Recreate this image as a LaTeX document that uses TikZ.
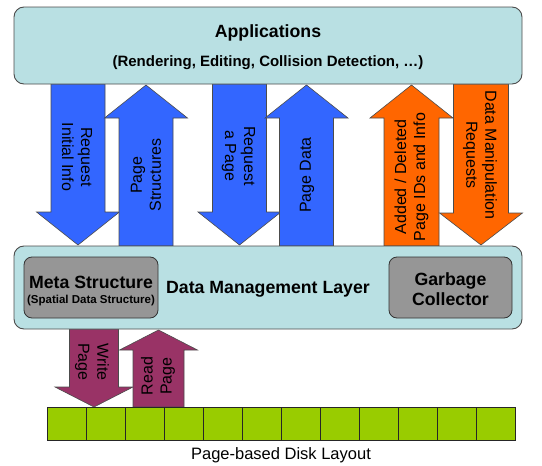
\documentclass[tikz,border=0pt]{standalone}
\usepackage{fontspec}
\setmainfont{Liberation Sans}

\definecolor{layerfill}{RGB}{185,224,227}
\definecolor{reqblue}{RGB}{51,102,255}
\definecolor{modorange}{RGB}{255,102,0}
\definecolor{iopurple}{RGB}{153,51,102}
\definecolor{boxgray}{RGB}{150,150,150}
\definecolor{diskgreen}{RGB}{153,204,0}

% block arrow: style, x, tail y, neck y, tip y, half shaft, half head
\newcommand{\blockarrow}[7]{%
  \draw[#1] (#2-#6,#3) -- (#2-#6,#4) -- (#2-#7,#4) -- (#2,#5)
    -- (#2+#7,#4) -- (#2+#6,#4) -- (#2+#6,#3) -- cycle;}

\begin{document}
\begin{tikzpicture}[x=1pt,y=-1pt,
	layer/.style={draw=black!70, line width=0.9pt, fill=layerfill, rounded corners=10pt, inner sep=0pt},
	part/.style={draw=black!80, line width=0.8pt, fill=boxgray, rounded corners=8pt, inner sep=0pt, minimum height=61pt},
	cell/.style={draw=black!85, line width=0.7pt, fill=diskgreen, minimum width=39pt, minimum height=33pt, inner sep=0pt},
	reqarrow/.style={draw=black!70, line width=0.6pt, fill=reqblue},
	modarrow/.style={draw=black!70, line width=0.6pt, fill=modorange},
	ioarrow/.style={draw=black!70, line width=0.6pt, fill=iopurple},
	arrowtext/.style={font=\fontsize{16}{19}\selectfont, align=center},
	bigtext/.style={font=\bfseries\fontsize{17.7}{21}\selectfont, align=center}]
	
	\useasboundingbox (0,0) rectangle (542,466);
	
	% Draw arrows, applications <-> data management layer
	\blockarrow{reqarrow}{78}{84}{212}{245}{27}{41.5}
	\blockarrow{reqarrow}{146}{246}{118}{85}{27}{41.5}
	\blockarrow{reqarrow}{239.5}{84}{212}{245}{27}{41.5}
	\blockarrow{reqarrow}{306.5}{246}{118}{85}{27}{41.5}
	\blockarrow{modarrow}{411.5}{246}{118}{85}{27.5}{41.5}
	\blockarrow{modarrow}{481}{84}{213}{245}{27.5}{41.5}
	
	% Draw arrows, data management layer <-> disk
	\blockarrow{ioarrow}{94}{329}{387}{407}{24.5}{39}
	\blockarrow{ioarrow}{158.5}{407}{350}{330}{25.5}{39}
	
	% Draw layers
	\node[layer, minimum width=508pt, minimum height=77pt] (apps) at (268,45.5) {};
	\node[bigtext] (appname) at (268,33) {Applications};
	\node[font=\bfseries\fontsize{15}{18}\selectfont] (appkinds) at (268,63) {(Rendering, Editing, Collision Detection, …)};
	
	\node[layer, minimum width=508pt, minimum height=83pt] (dml) at (268,287.5) {};
	\node[part, minimum width=134pt] (meta) at (91,287.5) {};
	\node[bigtext] (metaname) at (91,282) {Meta Structure};
	\node[font=\bfseries\fontsize{11.5}{14}\selectfont] (metakind) at (91,301) {(Spatial Data Structure)};
	\node[part, minimum width=123pt] (gc) at (450.5,287.5) {};
	\node[bigtext] (gcname) at (450.5,289.5) {Garbage\\[-1pt]Collector};
	\node[bigtext] (dmlname) at (268,289) {Data Management Layer};
	
	% Draw disk pages
	\foreach \i in {0,...,11}
		\node[cell] (cell\i) at (66.5+39*\i,423.5) {};
	\node[font=\fontsize{16.5}{19}\selectfont] (disk) at (281,455) {Page-based Disk Layout};
	
	% Arrow labels
	\node[arrowtext, rotate=-90] (reqinfo) at (77,157) {Request\\Initial Info};
	\node[arrowtext, rotate=90] (structs) at (146,175) {Page\\Structures};
	\node[arrowtext, rotate=-90] (reqpage) at (238.5,156) {Request\\a Page};
	\node[arrowtext, rotate=90] (pagedata) at (307,175) {Page Data};
	\node[arrowtext, rotate=90] (added) at (411.5,177) {Added / Deleted\\Page IDs and Info};
	\node[arrowtext, rotate=-90] (manip) at (480,155) {Data Manipulation\\Requests};
	\node[arrowtext, rotate=-90] (write) at (92,362) {Write\\Page};
	\node[arrowtext, rotate=90] (read) at (158,376) {Read\\Page};
	
\end{tikzpicture}
\end{document}
